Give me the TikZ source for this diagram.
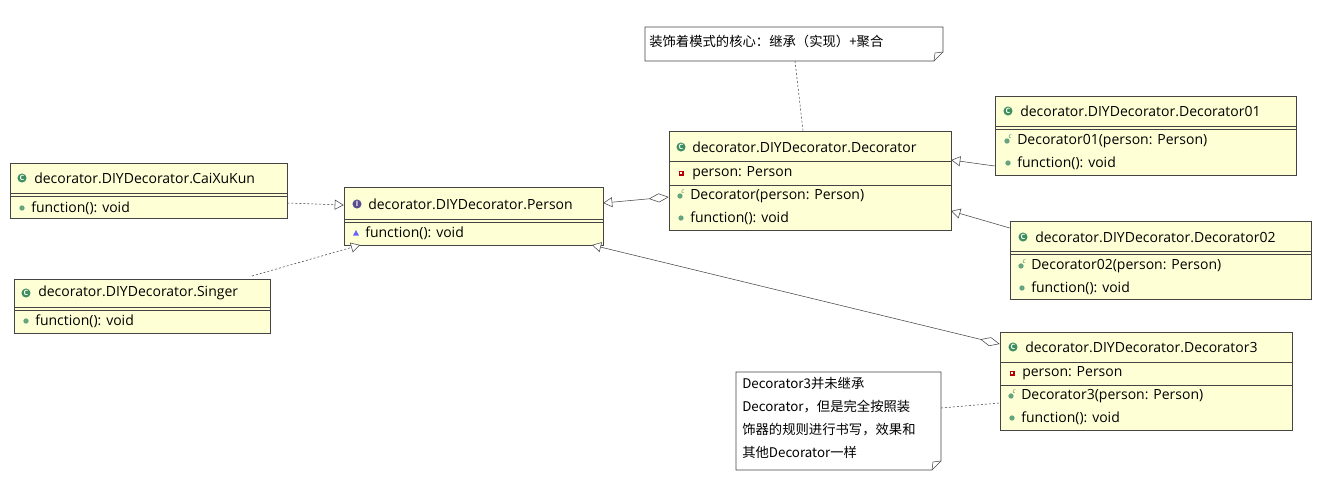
\documentclass[tikz,border=0pt]{standalone}
\usepackage{fontspec}
\setmainfont{Open Sans}
\newfontfamily\cjk{Noto Sans CJK SC}
\usetikzlibrary{arrows.meta}
\definecolor{boxfill}{HTML}{FFFFD6}
\definecolor{boxline}{HTML}{444444}
\definecolor{icg}{HTML}{3E8E5E}
\definecolor{icp}{HTML}{5A4A8E}
\newcommand\txt[3]{\node[anchor=west,font=\fontsize{10.5}{12}\selectfont,inner sep=0] at (#1,#2) {#3};}
\newcommand\icC[2]{\fill[icg] (#1,#2) circle[radius=3.4pt]; \node[white,font=\fontsize{5.5}{6}\bfseries\selectfont,inner sep=0] at (#1,#2) {C};}
\newcommand\icI[2]{\fill[icp] (#1,#2) circle[radius=3.4pt]; \node[white,font=\fontsize{5.5}{6}\bfseries\selectfont,inner sep=0] at (#1,#2) {I};}
\newcommand\icM[2]{\fill[icg!80] (#1,#2) circle[radius=2pt];}
\newcommand\icK[2]{\fill[icg!80] (#1,#2) circle[radius=2pt]; \node[icg,font=\fontsize{5}{5}\itshape\selectfont,inner sep=0] at ([shift={(3,-4)}]#1,#2) {c};}
\newcommand\icA[2]{\fill[red!70!black] ([shift={(-2.5,-2.5)}]#1,#2) rectangle ([shift={(2.5,2.5)}]#1,#2); \fill[white] ([shift={(-1.2,-1.2)}]#1,#2) rectangle ([shift={(1.2,1.2)}]#1,#2);}
\newcommand\icT[2]{\fill[blue!60] ([shift={(-3,2.5)}]#1,#2) -- ([shift={(3,2.5)}]#1,#2) -- ([shift={(0,-3)}]#1,#2) -- cycle;}
% box: name x1 y1 x2 y2
\newcommand\bx[5]{\node[draw=boxline,fill=boxfill,inner sep=0,minimum width={(#4-#2)*0.75pt},minimum height={(#5-#3)*0.75pt}] (#1) at ({(#2+#4)/2},{(#3+#5)/2}) {};}
\newcommand\hl[3]{\draw[boxline] (#1,#3) -- (#2,#3);}
\newcommand\dl[3]{\draw[boxline] (#1,#3) -- (#2,#3); \draw[boxline] (#1,#3+3) -- (#2,#3+3);}
\tikzset{
 inh/.style={-{Triangle[open,length=6.75pt,width=7.5pt,fill=white]},boxline},
 dep/.style={inh,dash pattern=on 1.5pt off 1.5pt},
 agg/.style={{Diamond[open,length=15pt,width=6.75pt,fill=white]}-{Triangle[open,length=6.75pt,width=7.5pt,fill=white]},boxline},
 notel/.style={boxline,dash pattern=on 1.5pt off 1.5pt}
}
\begin{document}
\begin{tikzpicture}[x=0.75pt,y=-0.75pt]
\useasboundingbox[fill=white] (0,0) rectangle (1339,494);
% CaiXuKun
\bx{cai}{10}{163}{287}{218}
\dl{10}{287}{193}
\icC{22}{178}\txt{34}{178}{decorator.DIYDecorator.CaiXuKun}
\icM{22}{208}\txt{31}{208}{function(): void}
% Singer
\bx{sing}{14}{279}{270}{333}
\dl{14}{270}{307}
\icC{26}{293}\txt{38}{293}{decorator.DIYDecorator.Singer}
\icM{26}{321}\txt{35}{321}{function(): void}
% Person
\bx{per}{344}{187}{603}{245}
\dl{344}{603}{219}
\icI{357}{204}\txt{368}{204}{decorator.DIYDecorator.Person}
\icT{356}{233}\txt{365}{233}{function(): void}
% Decorator
\bx{dec}{669}{131}{951}{230}
\hl{669}{951}{161}\hl{669}{951}{185}
\icC{681}{147}\txt{692}{147}{decorator.DIYDecorator.Decorator}
\icA{681}{173}\txt{692}{173}{person: Person}
\icK{680}{196}\txt{690}{196}{Decorator(person: Person)}
\icM{681}{218}\txt{690}{218}{function(): void}
% Decorator01
\bx{d1}{995}{96}{1296}{175}
\dl{995}{1296}{126}
\icC{1008}{111}\txt{1020}{111}{decorator.DIYDecorator.Decorator01}
\icK{1007}{141}\txt{1017}{141}{Decorator01(person: Person)}
\icM{1008}{163}\txt{1017}{163}{function(): void}
% Decorator02
\bx{d2}{1010}{221}{1311}{299}
\dl{1010}{1311}{251}
\icC{1023}{237}\txt{1035}{237}{decorator.DIYDecorator.Decorator02}
\icK{1021}{266}\txt{1031}{266}{Decorator02(person: Person)}
\icM{1022}{288}\txt{1031}{288}{function(): void}
% Decorator3
\bx{d3}{1000}{332}{1292}{430}
\hl{1000}{1292}{362}\hl{1000}{1292}{385}
\icC{1013}{347}\txt{1025}{347}{decorator.DIYDecorator.Decorator3}
\icA{1012}{373}\txt{1022}{373}{person: Person}
\icK{1011}{396}\txt{1021}{396}{Decorator3(person: Person)}
\icM{1012}{418}\txt{1021}{418}{function(): void}
% notes
\draw[boxline,fill=white] (645,27) -- (943,27) -- (943,52) -- (934,61) -- (645,61) -- cycle;
\draw[boxline] (934,61) -- (935,53) -- (943,52);
\node[anchor=west,inner sep=0,font=\cjk\fontsize{10}{12}\selectfont] (n1) at (649,41) {装饰着模式的核心：继承（实现）+聚合};
\draw[boxline,fill=white] (736,372) -- (941,372) -- (941,461) -- (932,470) -- (736,470) -- cycle;
\draw[boxline] (932,470) -- (933,462) -- (941,461);
\node[anchor=north west,inner sep=0,align=left,font=\cjk\fontsize{10}{17.2}\selectfont] (n2) at (742,377) {Decorator3并未继承\\Decorator，但是完全按照装\\饰器的规则进行书写，效果和\\其他Decorator一样};
% connectors
\draw[dep] (cai.east |- 0,203) -- (per.west |- 0,205);
\coordinate (sg) at (252,276);
\coordinate (pb) at (360,245);
\draw[dep] (sg) -- (pb);
\draw[agg] (dec.west |- 0,197) -- (per.east |- 0,203);
\draw[inh] (d1.west |- 0,166) -- (dec.east |- 0,160);
\draw[inh] (d2.west |- 0,228) -- (dec.east |- 0,211);
\coordinate (pb2) at (592,245);
\draw[agg] (d3.west |- 0,344) -- (pb2);
\coordinate (nb1) at (795,61);
\coordinate (nb2) at (941,408);
\draw[notel] (nb1) -- (dec.north -| 803,0);
\draw[notel] (nb2) -- (d3.west |- 0,403);
\end{tikzpicture}
\end{document}
